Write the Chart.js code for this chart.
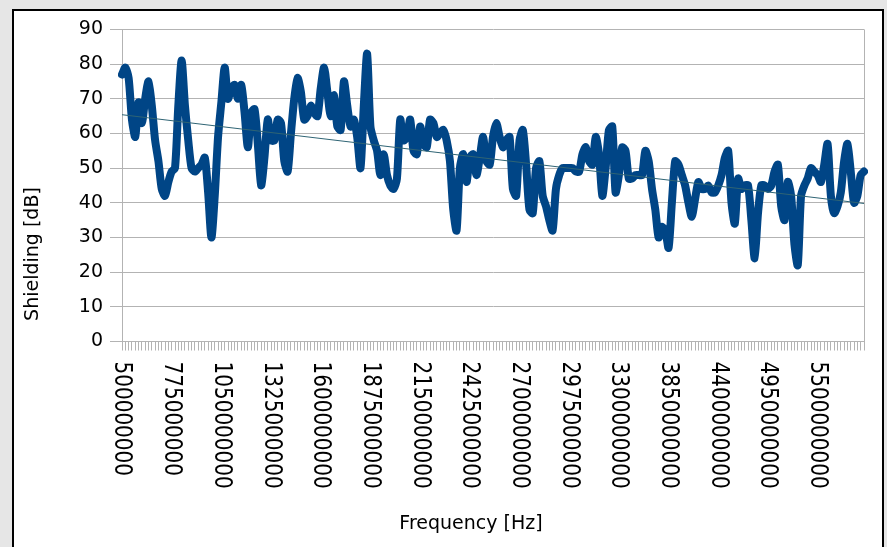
<!DOCTYPE html>
<html>
<head>
<meta charset="utf-8">
<script src="https://cdn.jsdelivr.net/npm/chart.js@4.4.1/dist/chart.umd.min.js"></script>
<style>
  html, body { margin: 0; padding: 0; background: #e6e6e6; width: 887px; height: 547px; overflow: hidden; }
  #frame { position: absolute; left: 12px; top: 9px; width: 868px; height: 560px; border: 2px solid #000; background: #fff; }
  canvas { display: block; }
</style>
</head>
<body>
<div id="frame"><canvas id="chart" width="868" height="536"></canvas></div>
<script>
// printed frequency labels, one every 15 measurement points
const tickLabels = [
  "500000000", "775000000", "1050000000", "1325000000", "1600000000",
  "1875000000", "2150000000", "2425000000", "2700000000", "2975000000",
  "3300000000", "3850000000", "4400000000", "4950000000", "5500000000"
];
const labelEvery = 15;

// shielding in dB
const shielding = [
  77, 79, 76, 64, 59, 69, 63, 70, 75, 68, 58, 52, 44, 42, 46,
  49, 50, 68, 81, 68, 58, 50, 49, 50, 51, 53, 43, 30, 42, 59,
  69, 79, 70, 73, 74, 70, 74, 66, 56, 66, 67, 57, 45, 53, 64,
  58, 58, 64, 63, 52, 49, 60, 70, 76, 72, 64, 65, 68, 66, 65,
  73, 79, 72, 65, 71, 62, 61, 75, 68, 62, 64, 59, 50, 68, 83,
  62, 58, 55, 48, 54, 48, 45, 44, 47, 64, 58, 59, 64, 55, 54,
  62, 57, 56, 64, 63, 59, 60, 61, 58, 52, 38, 32, 50, 54, 46,
  53, 54, 48, 53, 59, 52, 51, 59, 63, 59, 56, 58, 59, 44, 42,
  58, 61, 51, 38, 37, 50, 52, 42, 39, 35, 32, 44, 48, 50, 50,
  50, 50, 49, 49, 54, 56, 52, 51, 59, 54, 42, 50, 61, 62, 43,
  48, 56, 55, 47, 47, 48, 48, 48, 55, 52, 44, 38, 30, 33, 32,
  27, 40, 52, 51, 48, 45, 40, 36, 41, 46, 44, 44, 45, 43, 43,
  45, 48, 53, 55, 40, 34, 47, 44, 45, 45, 35, 24, 37, 45, 45,
  44, 45, 49, 51, 39, 35, 46, 42, 28, 22, 42, 45, 47, 50, 49,
  48, 46, 51, 57, 42, 37, 39, 43, 52, 57, 49, 40, 42, 48, 49
];

// linear trend line, value at first and last point
const trendStart = 65.4;
const trendEnd = 39.8;

const categories = shielding.map((v, i) => i);
const trend = shielding.map((v, i) =>
  i === 0 ? trendStart : (i === shielding.length - 1 ? trendEnd : null));

const FONT = "DejaVu Sans";

// draws the plot frame, the clockwise rotated frequency labels and the axis titles
const frameAndText = {
  id: "frameAndText",
  beforeDatasetsDraw(chart) {
    const { ctx, chartArea: a } = chart;
    ctx.save();
    ctx.strokeStyle = "#b3b3b3";
    ctx.lineWidth = 1;
    ctx.beginPath();
    ctx.moveTo(Math.round(a.right) + 0.5, a.top);
    ctx.lineTo(Math.round(a.right) + 0.5, a.bottom);
    ctx.stroke();
    ctx.restore();
  },
  afterDraw(chart) {
    const { ctx, scales } = chart;
    const x = scales.x;
    ctx.save();
    ctx.fillStyle = "#000";
    ctx.font = "20px '" + FONT + "'";
    ctx.textAlign = "left";
    ctx.textBaseline = "middle";
    tickLabels.forEach((t, k) => {
      const px = x.getPixelForValue(k * labelEvery);
      ctx.save();
      ctx.translate(px, x.top + 20);
      ctx.rotate(Math.PI / 2);
      ctx.scale(1, 1.25); // the reference glyphs are a bit fatter
      ctx.fillText(t, 0, 0);
      ctx.restore();
    });

    ctx.font = "19px '" + FONT + "'";
    ctx.textAlign = "center";
    ctx.fillText("Frequency [Hz]", 457, 513);

    ctx.save();
    ctx.translate(19, 243);
    ctx.rotate(-Math.PI / 2);
    ctx.fillText("Shielding [dB]", 0, 0);
    ctx.restore();
    ctx.restore();
  }
};

new Chart(document.getElementById("chart").getContext("2d"), {
  type: "line",
  data: {
    labels: categories,
    datasets: [
      {
        data: trend,
        borderColor: "#2f6474",
        borderWidth: 1,
        pointRadius: 0,
        spanGaps: true,
      },
      {
        data: shielding,
        borderColor: "#004586",
        borderWidth: 8,
        pointRadius: 0,
        tension: 0.25,
        borderJoinStyle: "round",
        borderCapStyle: "round",
      },
    ],
  },
  options: {
    responsive: false,
    animation: false,
    devicePixelRatio: 1,
    layout: { padding: { left: 0, right: 18, top: 18, bottom: 0 } },
    plugins: {
      legend: { display: false },
      tooltip: { enabled: false },
    },
    scales: {
      x: {
        type: "category",
        ticks: { display: false, autoSkip: false },
        grid: { drawOnChartArea: false, drawTicks: true, tickLength: 9, color: "#b3b3b3" },
        border: { color: "#b3b3b3" },
        afterFit(s) { s.height = 205.5; },
      },
      y: {
        min: 0,
        max: 90,
        ticks: {
          stepSize: 10,
          color: "#000",
          padding: 7,
          font: { family: FONT, size: 19 },
        },
        grid: { color: "#b3b3b3", tickLength: 12 },
        border: { color: "#b3b3b3" },
        afterFit(s) { s.width = 108; },
      },
    },
  },
  plugins: [frameAndText],
});
</script>
</body>
</html>
